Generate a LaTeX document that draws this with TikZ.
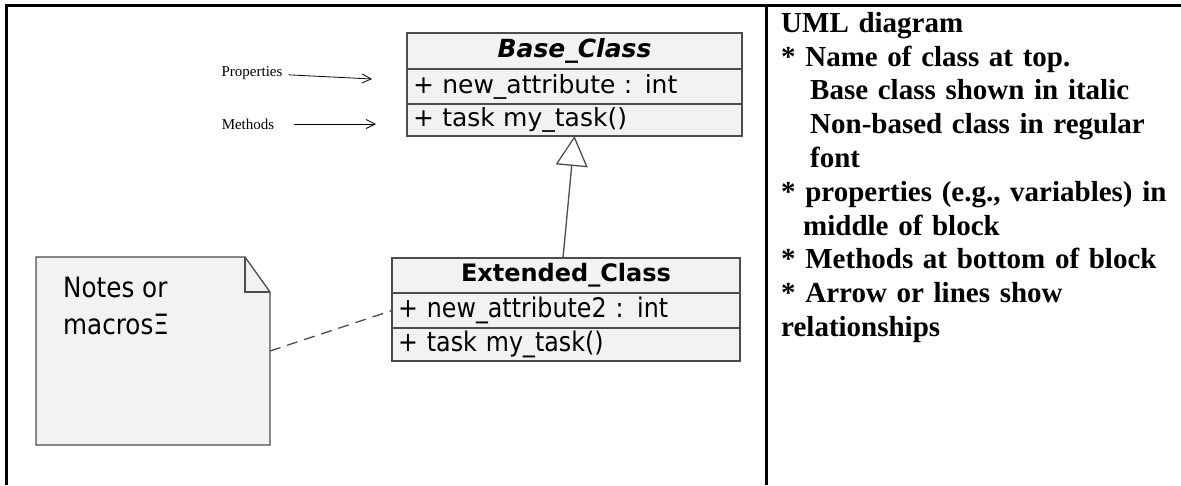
\documentclass[tikz,border=0pt]{standalone}
\usepackage{fontspec}
\setmainfont{Liberation Serif}
\newfontfamily\umlfont{DejaVu Sans}
\newfontfamily\umlnarrow[FakeStretch=0.88]{DejaVu Sans}
\usetikzlibrary{positioning}
\usetikzlibrary{arrows.meta}

\begin{document}
\begin{tikzpicture}[x=1pt, y=-1pt,
    frame/.style = {line width=3pt},
    row/.style = {draw=black!70, fill=black!5, line width=1.3pt, outer sep=0pt,
        minimum width=335pt, minimum height=35pt, inner xsep=6pt, inner ysep=0pt,
        text width=323pt, align=left, font=\umlfont\fontsize{25}{28}\selectfont},
    head/.style = {row, align=center},
    extrow/.style = {row, minimum width=348pt, text width=336pt, font=\umlnarrow\fontsize{27}{28}\selectfont},
    exthead/.style = {extrow, align=center, font=\umlfont\fontsize{24}{28}\selectfont},
    notebox/.style = {minimum width=234pt, minimum height=188pt, inner sep=0pt, outer sep=0pt},
    noteline/.style = {draw=black!70, fill=black!5, line width=1.3pt},
    notetext/.style = {inner sep=0pt, align=left, font=\umlnarrow\fontsize{28}{37}\selectfont},
    dashed link/.style = {draw=black!70, line width=1.3pt, dash pattern=on 11pt off 7pt},
    inherit/.style = {draw=black!70, line width=1.3pt, -{Triangle[open, length=30pt, width=32pt, fill=white]}},
    pointer/.style = {-{Straight Barb[length=9pt, width=9pt]}, line width=0.8pt, shorten <=6pt},
    side/.style = {inner sep=0pt, font=\fontsize{15}{18}\selectfont},
    summary/.style = {inner sep=0pt, text width=400pt, align=left,
        font=\bfseries\fontsize{29}{33.8}\selectfont}]

    \useasboundingbox (0,0) rectangle (1181,485);

    % table frame
    \draw[frame] (6.5,485) -- (6.5,5.5) -- (1181,5.5);
    \draw[frame] (766,5.5) -- (766,485);

    % base class
    \node[head, minimum height=36pt, anchor=north west] (base) at (407,33) {\bfseries\itshape Base\_Class};
    \node[row, below=0pt of base] (baseattr) {+ new\_attribute : int};
    \node[row, minimum height=32pt, below=0pt of baseattr] (basemeth) {+ task my\_task()};

    % extended class
    \node[exthead, anchor=north west] (ext) at (392,258) {\bfseries Extended\_Class};
    \node[extrow, below=0pt of ext] (extattr) {+ new\_attribute2 : int};
    \node[extrow, minimum height=33pt, below=0pt of extattr] (extmeth) {+ task my\_task()};

    % note with folded corner
    \node[notebox, anchor=north west] (note) at (36,257) {};
    \draw[noteline] (note.north west) -- ([xshift=-25pt]note.north east) coordinate (fold)
        -- ([yshift=-35pt]note.north east) -- (note.south east) -- (note.south west) -- cycle;
    \draw[noteline, fill=none] (fold) -- ++(0,35) -- ([yshift=-35pt]note.north east);
    \node[notetext, anchor=north west] (notelabel) at (63,277) {Notes or\\macrosΞ};

    \draw[dashed link] (note.east) -- (extattr.west);
    \draw[inherit] ([xshift=-3pt]ext.north) -- (basemeth.south);

    % callouts
    \node[side] (props) at (252,73) {Properties};
    \node[side] (meths) at (248,124) {Methods};
    \coordinate (propstip) at (372,79);
    \coordinate (methstip) at (376,124);
    \draw[pointer] (props) -- (propstip);
    \draw[pointer, shorten <=20pt] (meths) -- (methstip);

    % notes column
    \node[summary, anchor=north west] (summary) at (781,12) {UML diagram\\
        {}* Name of class at top.\\
        \hspace*{29pt}Base class shown in italic\\
        \hspace*{29pt}Non-based class in regular\\
        \hspace*{29pt}font\\
        {}* properties (e.g., variables) in\\
        \hspace*{22pt}middle of block\\
        {}* Methods at bottom of block\\
        {}* Arrow or lines show\\
        relationships};

\end{tikzpicture}
\end{document}
